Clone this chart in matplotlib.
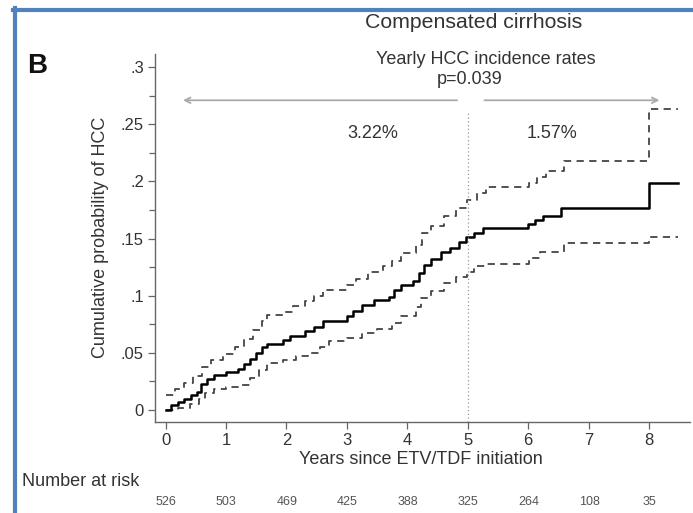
import matplotlib
matplotlib.use("Agg")
import matplotlib.pyplot as plt
from matplotlib.lines import Line2D

plt.rcParams['font.family'] = ['Liberation Sans', 'DejaVu Sans']

# Kaplan-Meier estimate (step times, cumulative probability)
km_t = [0, 0.08, 0.2, 0.3, 0.42, 0.52, 0.58, 0.68, 0.8, 1.0, 1.2, 1.3, 1.4, 1.5, 1.6,
        1.68, 1.95, 2.05, 2.3, 2.45, 2.6, 3.0, 3.1, 3.25, 3.45, 3.7, 3.78, 3.9, 4.1,
        4.2, 4.28, 4.4, 4.55, 4.7, 4.85, 4.97, 5.1, 5.25, 6.0, 6.12, 6.25, 6.55, 8.0, 8.48]
km_v = [0, 0.004, 0.007, 0.010, 0.013, 0.016, 0.023, 0.027, 0.031, 0.033, 0.036, 0.040,
        0.045, 0.050, 0.055, 0.058, 0.061, 0.065, 0.069, 0.073, 0.078, 0.082, 0.087,
        0.092, 0.096, 0.099, 0.105, 0.109, 0.113, 0.120, 0.127, 0.132, 0.138, 0.142,
        0.147, 0.151, 0.155, 0.159, 0.163, 0.166, 0.170, 0.177, 0.199, 0.199]

# upper 95% CI
up_t = [0, 0.15, 0.3, 0.45, 0.6, 0.75, 0.95, 1.15, 1.3, 1.45, 1.6, 1.68, 1.95, 2.1, 2.3,
        2.45, 2.6, 3.0, 3.15, 3.35, 3.6, 3.75, 3.9, 4.15, 4.25, 4.4, 4.6, 4.8, 4.98, 5.15,
        5.3, 6.02, 6.15, 6.3, 6.6, 8.0, 8.48]
up_v = [0.013, 0.018, 0.024, 0.030, 0.038, 0.044, 0.049, 0.055, 0.062, 0.070, 0.078,
        0.083, 0.086, 0.091, 0.095, 0.100, 0.105, 0.109, 0.115, 0.121, 0.126, 0.130,
        0.137, 0.144, 0.155, 0.161, 0.170, 0.177, 0.184, 0.190, 0.195, 0.199, 0.204,
        0.209, 0.218, 0.263, 0.263]

# lower 95% CI
lo_t = [0, 0.2, 0.4, 0.55, 0.65, 0.8, 1.0, 1.25, 1.4, 1.55, 1.68, 1.95, 2.15, 2.35, 2.55,
        2.7, 3.0, 3.25, 3.5, 3.74, 3.9, 4.15, 4.22, 4.4, 4.6, 4.8, 4.98, 5.1, 5.3, 6.02,
        6.2, 6.6, 8.0, 8.48]
lo_v = [0, 0.002, 0.005, 0.010, 0.015, 0.018, 0.020, 0.022, 0.028, 0.035, 0.041, 0.044,
        0.047, 0.050, 0.055, 0.060, 0.063, 0.067, 0.071, 0.076, 0.082, 0.090, 0.098,
        0.104, 0.111, 0.116, 0.121, 0.126, 0.128, 0.133, 0.138, 0.146, 0.151, 0.151]

risk_years = [0, 1, 2, 3, 4, 5, 6, 7, 8]
at_risk = [526, 503, 469, 425, 388, 325, 264, 108, 35]

rate_before = "3.22%"
rate_after = "1.57%"
p_value = "p=0.039"
split_year = 5

W, H = 693, 513
fig = plt.figure(figsize=(W / 100, H / 100), dpi=100)


def fx(px):
    return px / W


def fy(py):
    return 1 - py / H


ax = fig.add_axes([fx(155), fy(422), fx(690) - fx(155), fy(54) - fy(422)])
ax.set_xlim(-0.177, 8.68)
ax.set_ylim(-0.0105, 0.3115)

ci_style = dict(color='#444444', lw=1.3, linestyle=(0, (4, 3)))
ax.step(up_t, up_v, where='post', **ci_style)
ax.step(lo_t, lo_v, where='post', **ci_style)
ax.step(km_t, km_v, where='post', color='black', lw=1.8)

# split at year 5
ax.plot([split_year, split_year], [-0.0105, 0.260], color='#999999', lw=0.9,
        linestyle=(0, (1, 2)))

arrow_y = 0.271
ax.annotate('', xy=(0.24, arrow_y), xytext=(4.87, arrow_y),
            arrowprops=dict(arrowstyle='->', color='#aaaaaa', lw=1.3))
ax.annotate('', xy=(8.22, arrow_y), xytext=(5.23, arrow_y),
            arrowprops=dict(arrowstyle='->', color='#aaaaaa', lw=1.3))

for s in ['top', 'right']:
    ax.spines[s].set_visible(False)
for s in ['left', 'bottom']:
    ax.spines[s].set_color('#666666')
    ax.spines[s].set_linewidth(1.0)

ax.set_yticks([0, 0.05, 0.1, 0.15, 0.2, 0.25, 0.3])
ax.set_yticklabels(['0', '.05', '.1', '.15', '.2', '.25', '.3'])
ax.set_yticks([0.025, 0.075, 0.125, 0.175, 0.225, 0.275], minor=True)
ax.set_xticks(risk_years)
ax.tick_params(axis='both', which='major', length=5, width=0.9, color='#666666',
               labelsize=12, labelcolor='#333333', pad=3)
ax.tick_params(axis='y', which='minor', length=4, width=0.9, color='#666666')

txt = '#333333'
fig.text(fx(101), fy(237), 'Cumulative probability of HCC', rotation=90,
         ha='center', va='center', fontsize=13, color=txt)
fig.text(fx(421), fy(459), 'Years since ETV/TDF initiation', ha='center',
         va='center', fontsize=13, color=txt)
fig.text(fx(474), fy(22), 'Compensated cirrhosis', ha='center', va='center',
         fontsize=15.3, color=txt)
fig.text(fx(486), fy(60), 'Yearly HCC incidence rates', ha='center',
         va='center', fontsize=13, color=txt)
fig.text(fx(470), fy(80), p_value, ha='center', va='center', fontsize=13,
         color=txt)
fig.text(fx(373), fy(133), rate_before, ha='center', va='center', fontsize=13,
         color=txt)
fig.text(fx(552), fy(133), rate_after, ha='center', va='center', fontsize=13,
         color=txt)
fig.text(fx(37), fy(66), 'B', ha='center', va='center', fontsize=20,
         fontweight='bold', color='#111111')

fig.text(fx(22), fy(481), 'Number at risk', ha='left', va='center',
         fontsize=13, color=txt)
for yr, n in zip(risk_years, at_risk):
    px = 165.7 + 60.5 * yr
    fig.text(fx(px), fy(502), str(n), ha='center', va='center', fontsize=9,
             color='#555555')

# blue frame on top and left
border = '#4f81bd'
fig.add_artist(Line2D([fx(13), 1], [fy(10), fy(10)], color=border, lw=3,
                      transform=fig.transFigure))
fig.add_artist(Line2D([fx(15), fx(15)], [fy(8), 0], color=border, lw=3,
                      transform=fig.transFigure))

fig.savefig('out.png', dpi=100)
